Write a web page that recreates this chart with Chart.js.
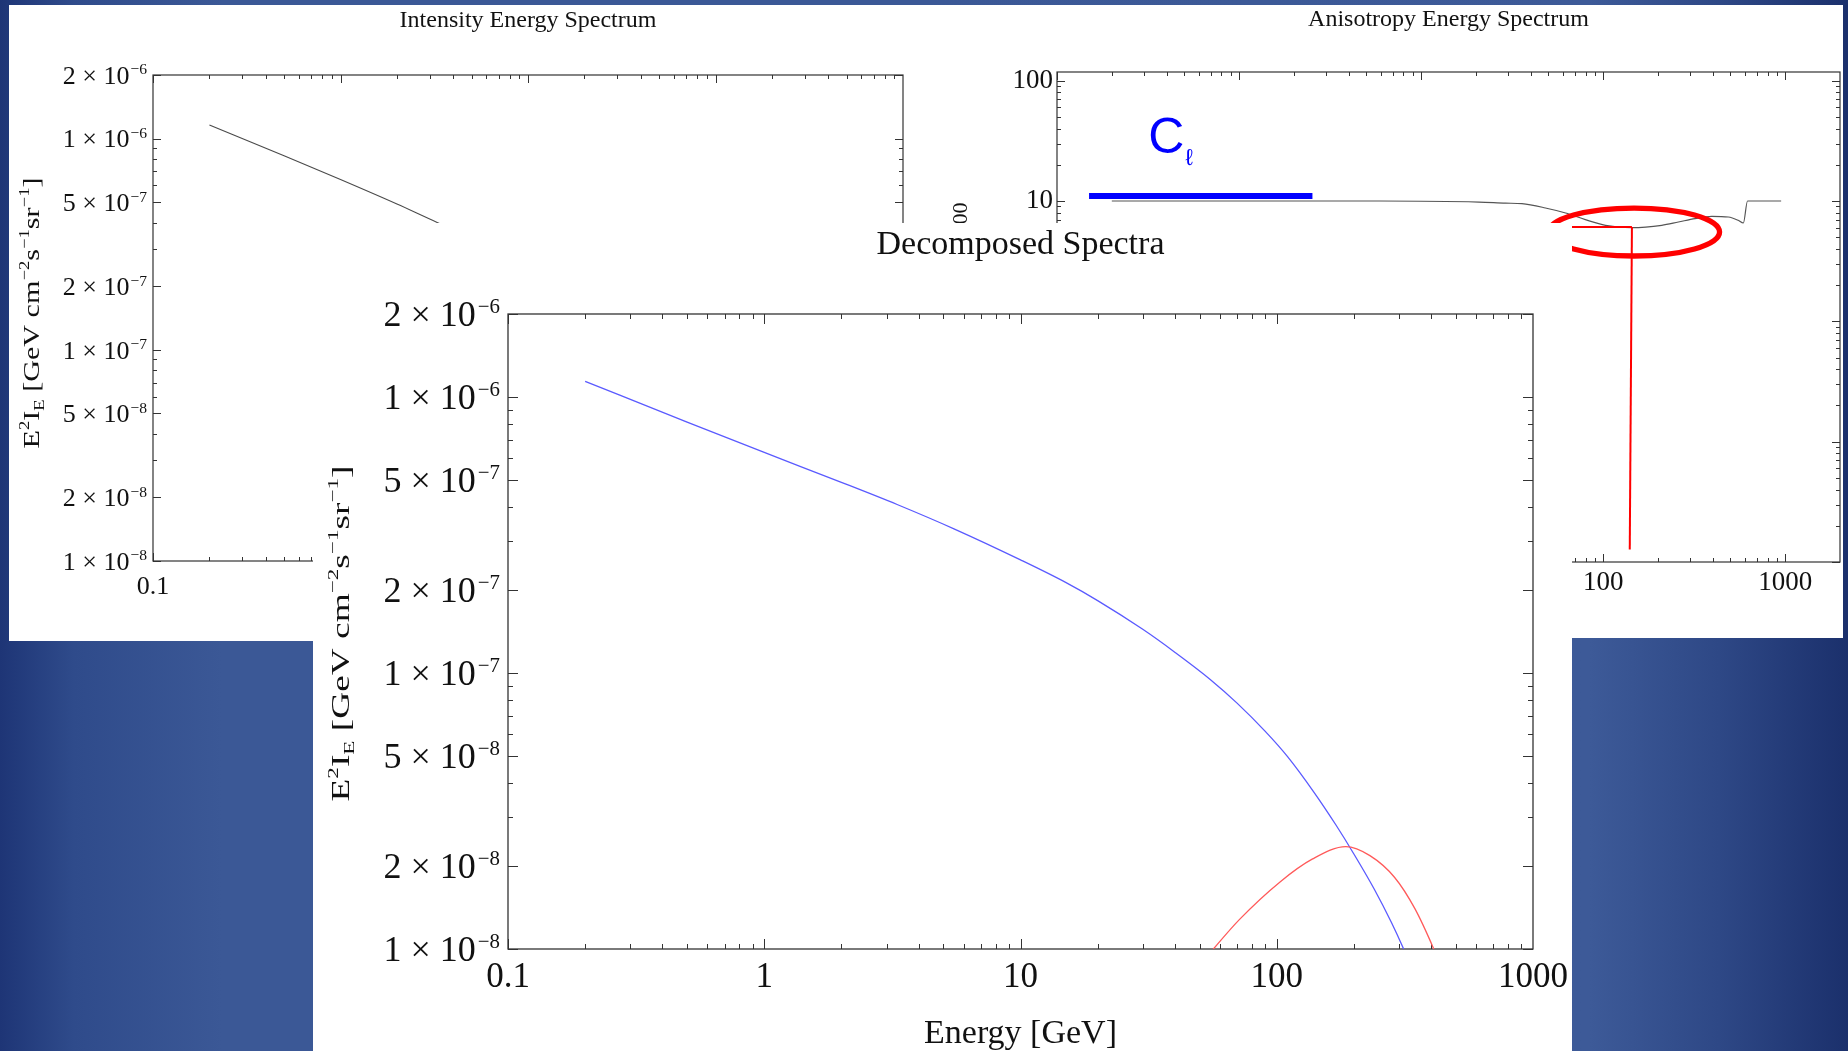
<!DOCTYPE html>
<html>
<head>
<meta charset="utf-8">
<script src="https://cdn.jsdelivr.net/npm/chart.js@4.4.1/dist/chart.umd.min.js"></script>
<style>
html, body { margin: 0; padding: 0; width: 1848px; height: 1051px; overflow: hidden; }
body { position: relative; background: linear-gradient(90deg, #1e3576 0%, #2f4b8b 4%, #3b5896 12%, #3b5896 50%, #3d5a98 86%, #2e4886 93%, #1b306c 100%); }
.panel { position: absolute; background: #fff; }
#pLeft { left: 9px; top: 5px; width: 922px; height: 636px; z-index: 1; }
#pAniso { left: 931px; top: 5px; width: 912px; height: 633px; z-index: 1; }
#pCenter { left: 313px; top: 223px; width: 1259px; height: 828px; z-index: 2; }
canvas { display: block; }
</style>
</head>
<body>
<div class="panel" id="pLeft"><canvas id="cLeft" width="922" height="636"></canvas></div>
<div class="panel" id="pAniso"><canvas id="cAniso" width="912" height="633"></canvas></div>
<div class="panel" id="pCenter"><canvas id="cCenter" width="1259" height="828"></canvas></div>
<script>
// ---------------- data ----------------
// Decomposed spectra: smooth component (blue)
const smoothEnergy = [0.2, 0.5, 1, 2, 3.3, 5.5, 10, 15, 20, 30, 40, 55, 70, 90, 110, 140, 170, 200, 240, 280, 315, 340];
const smoothFlux   = [1.14e-6, 8.12e-7, 6.3e-7, 4.91e-7, 4.08e-7, 3.33e-7, 2.57e-7, 2.13e-7, 1.83e-7, 1.44e-7, 1.19e-7, 9.48e-8, 7.78e-8, 6.16e-8, 4.99e-8, 3.69e-8, 2.82e-8, 2.21e-8, 1.65e-8, 1.25e-8, 9.85e-9, 8.3e-9];
// Decomposed spectra: bump component (red)
const bumpEnergy = [50, 56.6, 71.6, 103, 138, 186, 231, 288, 346, 410, 440];
const bumpFlux   = [8.7e-9, 1.0e-8, 1.28e-8, 1.75e-8, 2.12e-8, 2.35e-8, 2.18e-8, 1.82e-8, 1.4e-8, 1.0e-8, 8.5e-9];
// Intensity energy spectrum (left panel)
const intensityEnergy = [0.2, 0.5, 1, 2, 3.3, 5.5, 10];
const intensityFlux   = [1.16e-6, 8.3e-7, 6.4e-7, 4.9e-7, 4.0e-7, 3.3e-7, 2.6e-7];
// Anisotropy energy spectrum (right panel)
const anisoEnergy = [0.2, 1, 5.9, 20.8, 29.1, 35.8, 48.2, 62.2, 79.8, 103, 143.5, 210, 259, 320, 395, 487, 552, 589, 621, 950];
const anisoValue  = [10, 10, 10, 9.8, 9.6, 9.5, 8.75, 7.95, 7.0, 6.28, 6.0, 6.28, 6.69, 7.14, 7.46, 7.36, 6.91, 6.56, 10, 10];
// Annotation marks on the anisotropy panel
const clBarEnergy = [0.15, 2.53];
const clBarValue  = [11, 11];
const markerHEnergy = [50, 143.9];
const markerHValue  = [6.08, 6.08];
const markerVEnergy = [143.9, 140];
const markerVValue  = [6.08, 0.0127];

// Tick values and labels
const energyTickValues = [0.1, 1, 10, 100, 1000];
const energyTickLabels = ['0.1', '1', '10', '100', '1000'];
const fluxTickValues = [1e-8, 2e-8, 5e-8, 1e-7, 2e-7, 5e-7, 1e-6, 2e-6];
const fluxTickLabels = ['1 × 10⁻⁸', '2 × 10⁻⁸', '5 × 10⁻⁸', '1 × 10⁻⁷', '2 × 10⁻⁷', '5 × 10⁻⁷', '1 × 10⁻⁶', '2 × 10⁻⁶'];
const anisoTickValues = [0.01, 0.1, 1, 10, 100];
const anisoTickLabels = ['0.01', '0.1', '1', '10', '100'];

// ---------------- helpers ----------------
const SERIF = '"Liberation Serif", "Times New Roman", Times, serif';
const SANS = '"Liberation Sans", Arial, Helvetica, sans-serif';
Chart.defaults.font.family = SERIF;
Chart.defaults.font.weight = 'normal';
Chart.defaults.color = '#111';

const pts = (xs, ys) => xs.map((x, i) => ({ x: x, y: ys[i] }));

const SUPMAP = { '⁰': '0', '¹': '1', '²': '2', '³': '3', '⁴': '4', '⁵': '5', '⁶': '6', '⁷': '7', '⁸': '8', '⁹': '9', '⁻': '−' };
function splitSci(s) {
  let base = '', exp = '';
  for (const ch of s) { if (SUPMAP[ch]) exp += SUPMAP[ch]; else base += ch; }
  return [base, exp];
}

const frameTicksPlugin = {
  id: 'frameTicks',
  beforeDatasetsDraw(chart, args, o) {
    const { ctx, chartArea: a } = chart;
    const xs = chart.scales.x, ys = chart.scales.y;
    ctx.save();
    ctx.strokeStyle = o.color;
    ctx.lineWidth = 1;
    ctx.beginPath();
    const seg = (x1, y1, x2, y2) => { ctx.moveTo(x1, y1); ctx.lineTo(x2, y2); };
    for (let d = Math.floor(Math.log10(xs.min)) - 1; d <= Math.ceil(Math.log10(xs.max)); d++) {
      for (let m = 1; m <= 9; m++) {
        const v = m * Math.pow(10, d);
        if (v < xs.min * 0.999 || v > xs.max * 0.999) continue;
        const len = m === 1 ? o.major : o.minor;
        const p = Math.round(xs.getPixelForValue(v)) + 0.5;
        seg(p, a.bottom, p, a.bottom - len);
        seg(p, a.top, p, a.top + len);
      }
    }
    for (let d = Math.floor(Math.log10(ys.min)) - 1; d <= Math.ceil(Math.log10(ys.max)); d++) {
      for (let m = 1; m <= 9; m++) {
        const v = m * Math.pow(10, d);
        if (v < ys.min * 0.999 || v > ys.max * 1.001) continue;
        const major = o.yMajors.some(t => Math.abs(t / v - 1) < 1e-6);
        const len = major ? o.major : o.minor;
        const p = Math.round(ys.getPixelForValue(v)) + 0.5;
        seg(a.left, p, a.left + len, p);
        seg(a.right, p, a.right - len, p);
      }
    }
    ctx.stroke();
    ctx.lineWidth = o.frameWidth;
    ctx.strokeRect(a.left, a.top, a.width, a.height);
    ctx.restore();
  }
};

// y tick labels of the form "m × 10^e", with a real superscript exponent
const sciTicksPlugin = {
  id: 'sciTicks',
  afterDraw(chart, args, o) {
    if (!o || !o.values) return;
    const { ctx, chartArea: a } = chart;
    const ys = chart.scales.y;
    const supSize = o.size * o.supScale;
    ctx.save();
    ctx.fillStyle = '#111';
    ctx.textBaseline = 'alphabetic';
    o.values.forEach((v, i) => {
      const [base, exp] = splitSci(o.labels[i]);
      const y = ys.getPixelForValue(v) + o.size * 0.338;
      ctx.font = supSize + 'px ' + SERIF;
      const we = ctx.measureText(exp).width;
      ctx.font = o.size + 'px ' + SERIF;
      const wb = ctx.measureText(base).width;
      const right = a.left - o.pad;
      ctx.fillText(base, right - we - wb - o.gap, y);
      ctx.font = supSize + 'px ' + SERIF;
      ctx.fillText(exp, right - we, y - o.size * o.raise);
    });
    ctx.restore();
  }
};

const richTitlePlugin = {
  id: 'richTitle',
  afterDraw(chart, args, o) {
    if (!o || !o.segments) return;
    const { ctx, chartArea: a } = chart;
    const ys = chart.scales.y;
    const f = o.size;
    ctx.save();
    const parts = o.segments.map(s => ({ t: s[0], k: s[1], size: s[1] ? f * 0.62 : f }));
    let total = 0;
    parts.forEach(p => { ctx.font = p.size + 'px ' + SERIF; p.w = ctx.measureText(p.t).width; total += p.w; });
    const stretch = o.length ? o.length / total : 1;
    const cx = ys.left + o.dx;
    let cy;
    if (o.endValue !== undefined) cy = ys.getPixelForValue(o.endValue) + total * stretch / 2;
    else cy = (a.top + a.bottom) / 2 + (o.dy || 0);
    ctx.translate(cx, cy);
    ctx.rotate(-Math.PI / 2);
    ctx.scale(stretch, 1);
    ctx.fillStyle = o.color || '#111';
    ctx.textBaseline = 'alphabetic';
    let x = -total / 2;
    const base = f * 0.33;
    parts.forEach(p => {
      ctx.font = p.size + 'px ' + SERIF;
      const shift = p.k === 1 ? -f * 0.42 : (p.k === -1 ? f * 0.2 : 0);
      ctx.fillText(p.t, x, base + shift);
      x += p.w;
    });
    ctx.restore();
  }
};

const annoPlugin = {
  id: 'anno',
  afterDatasetsDraw(chart, args, o) {
    const { ctx } = chart;
    const xs = chart.scales.x, ys = chart.scales.y;
    ctx.save();
    (o.ellipses || []).forEach(e => {
      const x0 = xs.getPixelForValue(e.x0), x1 = xs.getPixelForValue(e.x1);
      const y0 = ys.getPixelForValue(e.y0), y1 = ys.getPixelForValue(e.y1);
      ctx.beginPath();
      ctx.ellipse((x0 + x1) / 2, (y0 + y1) / 2, Math.abs(x1 - x0) / 2, Math.abs(y1 - y0) / 2, 0, 0, Math.PI * 2);
      ctx.strokeStyle = e.color;
      ctx.lineWidth = e.width;
      ctx.stroke();
    });
    (o.texts || []).forEach(t => {
      const px = xs.getPixelForValue(t.x), py = ys.getPixelForValue(t.y);
      ctx.fillStyle = t.color;
      ctx.textBaseline = 'alphabetic';
      ctx.font = t.size + 'px ' + SANS;
      ctx.fillText(t.text, px, py);
      const w = ctx.measureText(t.text).width;
      ctx.font = t.subSize + 'px ' + SANS;
      ctx.fillText(t.sub, px + w + t.subGap, py + t.subDrop);
    });
    ctx.restore();
  }
};

function logAxis(o) {
  return {
    type: 'logarithmic',
    position: o.position,
    min: o.min,
    max: o.max,
    afterBuildTicks: s => { s.ticks = o.values.map(v => ({ value: v })); },
    afterFit: s => {
      if (o.width != null) s.width = o.width;
      if (o.height != null) s.height = o.height;
      s.paddingLeft = 0; s.paddingRight = 0; s.paddingTop = 0; s.paddingBottom = 0;
    },
    ticks: {
      display: !o.customLabels,
      autoSkip: false, maxRotation: 0, minRotation: 0,
      padding: o.pad, color: '#111',
      font: { size: o.font, family: SERIF, weight: 'normal' },
      callback: (v, i) => o.labels[i]
    },
    grid: { display: false, drawTicks: false },
    border: { display: false },
    title: o.title || { display: false }
  };
}

const common = {
  responsive: false, animation: false, devicePixelRatio: 1, events: []
};

const fluxTitleSegments = [['E', 0], ['2', 1], ['I', 0], ['E', -1], [' [GeV cm', 0], ['−2', 1], ['s', 0], ['−1', 1], ['sr', 0], ['−1', 1], [']', 0]];

// ---------------- left: Intensity Energy Spectrum ----------------
new Chart(document.getElementById('cLeft'), {
  type: 'line',
  data: { datasets: [
    { data: pts(intensityEnergy, intensityFlux), borderColor: '#4a4a4a', borderWidth: 1.1, pointRadius: 0, cubicInterpolationMode: 'monotone' }
  ] },
  options: Object.assign({}, common, {
    layout: { padding: { left: 0, right: 28, top: 0, bottom: 0 } },
    plugins: {
      legend: { display: false }, tooltip: { enabled: false },
      title: { display: true, text: 'Intensity Energy Spectrum', fullSize: false, color: '#111',
               font: { size: 24, lineHeight: 1.2, family: SERIF, weight: 'normal' }, padding: { top: 1, bottom: 40.2 } },
      frameTicks: { color: '#333', frameWidth: 1.2, major: 8, minor: 4, yMajors: fluxTickValues },
      sciTicks: { values: fluxTickValues, labels: fluxTickLabels, size: 26, supScale: 0.6, raise: 0.36, pad: 6, gap: 1 },
      richTitle: { size: 24, length: 271, dx: 22, dy: -5, segments: fluxTitleSegments }
    },
    scales: {
      x: logAxis({ position: 'bottom', min: 0.1, max: 1000, values: energyTickValues, labels: energyTickLabels, font: 26, pad: 11, height: 80 }),
      y: logAxis({ position: 'left', min: 1e-8, max: 2e-6, values: fluxTickValues, labels: fluxTickLabels, font: 26, pad: 6, width: 144, customLabels: true })
    }
  }),
  plugins: [frameTicksPlugin, sciTicksPlugin, richTitlePlugin]
});

// ---------------- right: Anisotropy Energy Spectrum ----------------
new Chart(document.getElementById('cAniso'), {
  type: 'line',
  data: { datasets: [
    { data: pts(markerVEnergy, markerVValue), borderColor: '#ff0000', borderWidth: 2, pointRadius: 0 },
    { data: pts(markerHEnergy, markerHValue), borderColor: '#ff0000', borderWidth: 2, pointRadius: 0 },
    { data: pts(clBarEnergy, clBarValue), borderColor: '#0000ff', borderWidth: 6, pointRadius: 0, borderCapStyle: 'butt' },
    { data: pts(anisoEnergy, anisoValue), borderColor: '#555555', borderWidth: 1.2, pointRadius: 0, cubicInterpolationMode: 'monotone' }
  ] },
  options: Object.assign({}, common, {
    layout: { padding: { left: 0, right: 3, top: 0, bottom: 0 } },
    plugins: {
      legend: { display: false }, tooltip: { enabled: false },
      title: { display: true, text: 'Anisotropy Energy Spectrum', fullSize: false, color: '#111',
               font: { size: 24, lineHeight: 1.1, family: SERIF, weight: 'normal' }, padding: { top: 2, bottom: 38.6 } },
      frameTicks: { color: '#333', frameWidth: 1.2, major: 8, minor: 4, yMajors: anisoTickValues },
      richTitle: { size: 22, dx: 28.5, endValue: 9.7,
        segments: [['C', 0], ['ℓ', -1], [' / ⟨I⟩', 0], ['2', 1], [' × 100', 0]] },
      anno: {
        ellipses: [{ x0: 50.1, x1: 436, y0: 8.74, y1: 3.49, color: '#ff0000', width: 5.3 }],
        texts: [{ text: 'C', sub: 'ℓ', x: 0.317, y: 24.9, size: 50, subSize: 23, subGap: 1, subDrop: 12, color: '#0000ff' }]
      }
    },
    scales: {
      x: logAxis({ position: 'bottom', min: 0.1, max: 2000, values: energyTickValues, labels: energyTickLabels, font: 27, pad: 5, height: 76 }),
      y: logAxis({ position: 'left', min: 0.01, max: 118, values: anisoTickValues, labels: anisoTickLabels, font: 27, pad: 4, width: 126 })
    }
  }),
  plugins: [frameTicksPlugin, richTitlePlugin, annoPlugin]
});

// ---------------- centre: Decomposed Spectra ----------------
new Chart(document.getElementById('cCenter'), {
  type: 'line',
  data: { datasets: [
    { data: pts(bumpEnergy, bumpFlux), borderColor: '#ff5a5a', borderWidth: 1.3, pointRadius: 0, cubicInterpolationMode: 'monotone' },
    { data: pts(smoothEnergy, smoothFlux), borderColor: '#5a5aff', borderWidth: 1.3, pointRadius: 0, cubicInterpolationMode: 'monotone' }
  ] },
  options: Object.assign({}, common, {
    layout: { padding: { left: 0, right: 39, top: 0, bottom: 0 } },
    plugins: {
      legend: { display: false }, tooltip: { enabled: false },
      title: { display: true, text: 'Decomposed Spectra', fullSize: false, color: '#111',
               font: { size: 34, lineHeight: 1.2, family: SERIF, weight: 'normal' }, padding: { top: 2, bottom: 48.2 } },
      frameTicks: { color: '#333', frameWidth: 1.3, major: 10, minor: 5, yMajors: fluxTickValues },
      sciTicks: { values: fluxTickValues, labels: fluxTickLabels, size: 36, supScale: 0.58, raise: 0.36, pad: 8, gap: 2 },
      richTitle: { size: 25, length: 336, dx: 27.5, dy: 2, segments: fluxTitleSegments }
    },
    scales: {
      x: logAxis({ position: 'bottom', min: 0.1, max: 1000, values: energyTickValues, labels: energyTickLabels, font: 35, pad: 8, height: 102,
                   title: { display: true, text: 'Energy [GeV]', color: '#111', font: { size: 34, lineHeight: 1, family: SERIF, weight: 'normal' }, padding: { top: 0, bottom: 0 } } }),
      y: logAxis({ position: 'left', min: 1e-8, max: 2e-6, values: fluxTickValues, labels: fluxTickLabels, font: 36, pad: 8, width: 195, customLabels: true })
    }
  }),
  plugins: [frameTicksPlugin, sciTicksPlugin, richTitlePlugin]
});
</script>
</body>
</html>
